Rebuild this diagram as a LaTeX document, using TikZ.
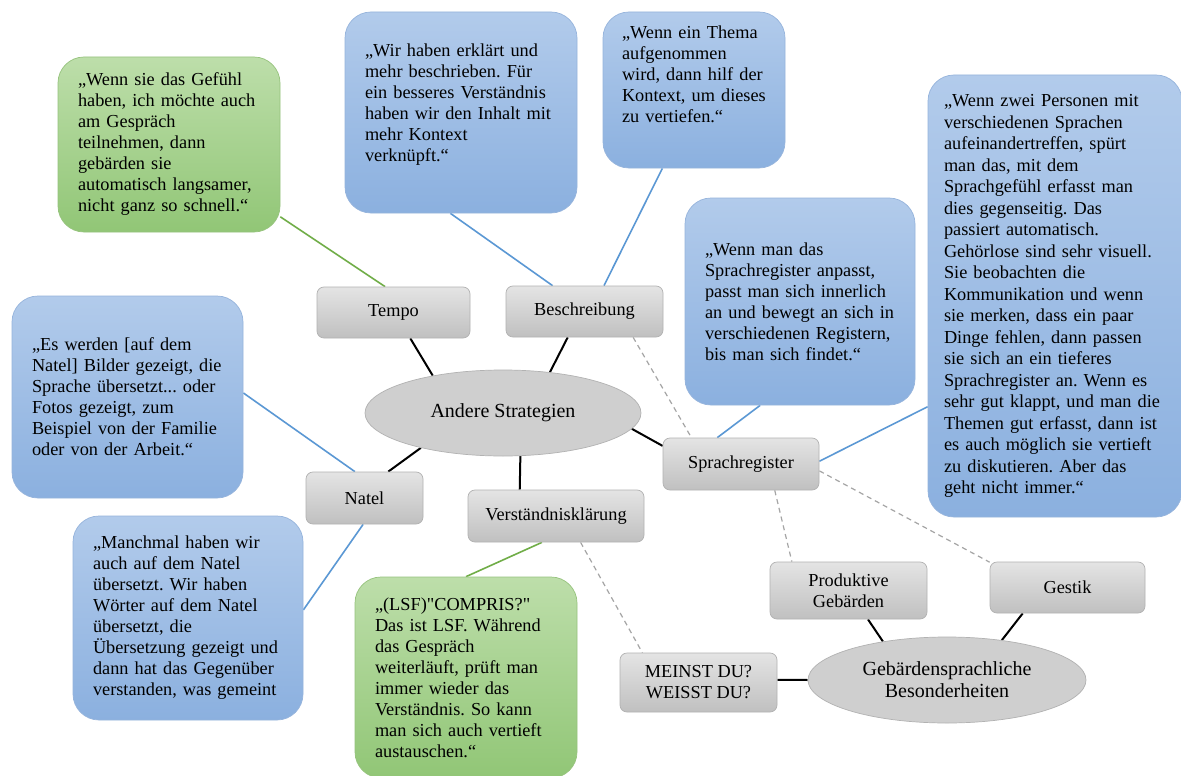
\documentclass[tikz,border=0pt]{standalone}
\usepackage{fontspec}
\setmainfont{Liberation Serif}[Ligatures=TeXOff]
\usepackage{tikz}
\usepackage{xcolor}
\usetikzlibrary{arrows,backgrounds,shapes}
\definecolor{bluetop}{RGB}{178,203,235}
\definecolor{bluebot}{RGB}{139,176,223}
\definecolor{blueline}{RGB}{150,180,220}
\definecolor{blueedge}{RGB}{91,152,212}
\definecolor{greentop}{RGB}{189,222,170}
\definecolor{greenbot}{RGB}{145,198,118}
\definecolor{greenline}{RGB}{150,195,125}
\definecolor{greenedge}{RGB}{112,173,71}
\definecolor{graytop}{RGB}{228,228,228}
\definecolor{graybot}{RGB}{192,192,192}
\definecolor{grayline}{RGB}{178,178,178}
\definecolor{ovalfill}{RGB}{207,207,207}
\definecolor{linkgray}{RGB}{165,165,165}
\newcommand{\mapfont}{\fontsize{18.3pt}{21pt}\selectfont\frenchspacing}
\newcommand{\longfont}{\fontsize{18.3pt}{21.5pt}\selectfont\frenchspacing}
\newcommand{\ovalfont}{\fontsize{20pt}{22pt}\selectfont}
\tikzstyle{quoteblue}  = [rectangle, rounded corners=26pt, draw=blueline, line width=0.7pt, top color=bluetop, bottom color=bluebot, align=left, inner xsep=20pt, inner ysep=8pt]
\tikzstyle{quotegreen} = [rectangle, rounded corners=26pt, draw=greenline, line width=0.7pt, top color=greentop, bottom color=greenbot, align=left, inner xsep=20pt, inner ysep=8pt]
\tikzstyle{theme}      = [rectangle, rounded corners=7pt, draw=grayline, line width=0.7pt, top color=graytop, bottom color=graybot, align=center, inner sep=2pt]
\tikzstyle{core}       = [ellipse, draw=grayline, line width=0.7pt, fill=ovalfill, align=center, inner sep=0pt, font=\ovalfont]
\tikzstyle{edgeblack}  = [draw, line width=2pt, black]
\tikzstyle{edgeblue}   = [draw, line width=1.6pt, blueedge]
\tikzstyle{edgegreen}  = [draw, line width=1.6pt, greenedge]
\tikzstyle{edgelink}   = [draw, line width=1.2pt, linkgray, dash pattern=on 5pt off 4pt]

\begin{document}
\begin{tikzpicture}[x=1pt, y=-1pt, every node/.style={font=\mapfont}]

   		\useasboundingbox (0,0) rectangle (1181,776);

   		%%%% Zentren
   		\node[core, minimum width=276pt, minimum height=86pt] (andere) at (503,413) {Andere Strategien};
   		\node[core, minimum width=278pt, minimum height=86pt] (gebaerden) at (947,680) {Gebärdensprachliche\\Besonderheiten};

   		%%%% Themen
   		\foreach \pos/\name/\bw/\bh/\txt in {{(393.5,312.5)/tempo/153/51/Tempo}, {(584.5,311.5)/beschr/157/51/Beschreibung}, {(364.5,498)/natel/117/52/Natel}, {(556,516)/verst/176/52/Verständnisklärung}, {(741,464)/sprach/156/52/Sprachregister}}
   		\node[theme, minimum width=\bw pt, minimum height=\bh pt] (\name) at \pos {\txt};

   		\foreach \pos/\name/\bw/\bh/\txt in {{(698.5,682.5)/meinst/157/59/MEINST DU?\\WEISST DU?}, {(848.5,590.5)/produkt/157/57/Produktive\\Gebärden}, {(1067.5,587.5)/gestik/155/51/Gestik}}
   		\node[theme, minimum width=\bw pt, minimum height=\bh pt] (\name) at \pos {\txt};

   		%%%% Zitate
   		\node[quotegreen, text width=182pt, minimum height=175pt] (qtempo) at (169,144.5)
   		{„Wenn sie das Gefühl\\ haben, ich möchte auch\\ am Gespräch\\ teilnehmen, dann\\ gebärden sie\\ automatisch langsamer,\\ nicht ganz so schnell.“};

   		\node[quoteblue, text width=192pt, minimum height=201pt, text depth=125pt] (qbeschr1) at (461,112.5)
   		{„Wir haben erklärt und\\ mehr beschrieben. Für\\ ein besseres Verständnis\\ haben wir den Inhalt mit\\ mehr Kontext\\ verknüpft.“};

   		\node[quoteblue, inner xsep=19pt, text width=144pt, minimum height=156pt, text depth=116pt] (qbeschr2) at (694,90)
   		{„Wenn ein Thema\\ aufgenommen\\ wird, dann hilf der\\ Kontext, um dieses\\ zu vertiefen.“};

   		\node[quoteblue, text width=190pt, minimum height=207pt] (qsprach1) at (800,301.5)
   		{„Wenn man das\\ Sprachregister anpasst,\\ passt man sich innerlich\\ an und bewegt an sich in\\ verschiedenen Registern,\\ bis man sich findet.“};

   		\node[quoteblue, font=\longfont, inner xsep=16pt, text width=222pt, minimum height=442pt] (qsprach2) at (1055,296)
   		{„Wenn zwei Personen mit\\ verschiedenen Sprachen\\ aufeinandertreffen, spürt\\ man das, mit dem\\ Sprachgefühl erfasst man\\ dies gegenseitig. Das\\ passiert automatisch.\\ Gehörlose sind sehr visuell.\\ Sie beobachten die\\ Kommunikation und wenn\\ sie merken, dass ein paar\\ Dinge fehlen, dann passen\\ sie sich an ein tieferes\\ Sprachregister an. Wenn es\\ sehr gut klappt, und man die\\ Themen gut erfasst, dann ist\\ es auch möglich sie vertieft\\ zu diskutieren. Aber das\\ geht nicht immer.“};

   		\node[quoteblue, text width=191pt, minimum height=202pt] (qnatel1) at (127.5,397)
   		{„Es werden [auf dem\\ Natel] Bilder gezeigt, die\\ Sprache übersetzt... oder\\ Fotos gezeigt, zum\\ Beispiel von der Familie\\ oder von der Arbeit.“};

   		\node[quoteblue, text width=190pt, minimum height=204pt] (qnatel2) at (188,618)
   		{„Manchmal haben wir\\ auch auf dem Natel\\ übersetzt. Wir haben\\ Wörter auf dem Natel\\ übersetzt, die\\ Übersetzung gezeigt und\\ dann hat das Gegenüber\\ verstanden, was gemeint};

   		\node[quotegreen, text width=182pt, minimum height=201pt] (qverst) at (466,677.5)
   		{„(LSF)"COMPRIS?"\\ Das ist LSF. Während\\ das Gespräch\\ weiterläuft, prüft man\\ immer wieder das\\ Verständnis. So kann\\ man sich auch vertieft\\ austauschen.“};

   		\begin{scope}[on background layer]
   		\fill[white] (0,0) rectangle (1181,776);

   		%%%% Strategien
   		\foreach \source/ \dest in {tempo.-57/andere.152, beschr.-123/andere.41, natel.48/andere.-157, verst.144/andere.-68, sprach.167/andere.-7}	\path[edgeblack] (\source) -- (\dest) ;
   		\foreach \source/ \dest in {meinst.2/gebaerden.180, produkt.-56/gebaerden.149, gestik.-150/gebaerden.36}	\path[edgeblack] (\source) -- (\dest) ;

   		%%%% Zitate
   		\foreach \source/ \dest in {qbeschr1.-96/beschr.141, qbeschr2.-112/beschr.53, qnatel1.2/natel.110, qnatel2.4/natel.-93, qsprach1.-111/sprach.132, qsprach2.-139/sprach.2}	\path[edgeblue] (\source) -- (\dest) ;
   		\foreach \source/ \dest in {qtempo.-33/tempo.108, qverst.90/verst.-118}	\path[edgegreen] (\source) -- (\dest) ;

   		%%%% Querverbindungen
   		\foreach \source/ \dest in {beschr.-28/sprach.152, sprach.-5/gestik.162, sprach.-38/produkt.153, verst.-47/meinst.152}	\path[edgelink] (\source) -- (\dest) ;
   		\end{scope}
\end{tikzpicture}
\end{document}
